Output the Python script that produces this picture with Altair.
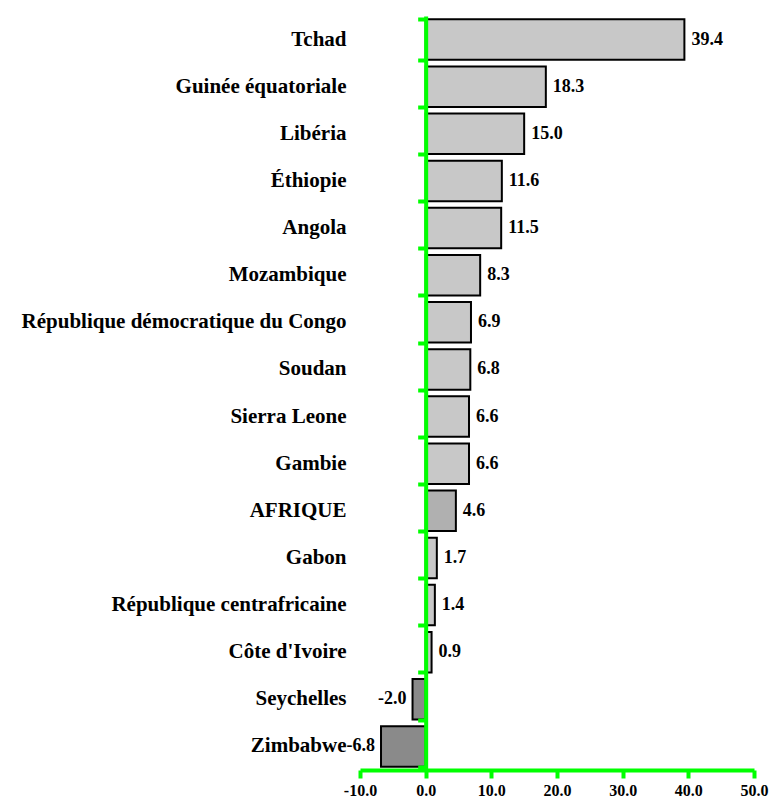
import altair as alt
import pandas as pd

countries = ["Tchad", "Guinée équatoriale", "Libéria", "Éthiopie", "Angola", "Mozambique",
             "République démocratique du Congo ", "Soudan", "Sierra Leone", "Gambie", "AFRIQUE",
             "Gabon", "République centrafricaine", "Côte d'Ivoire", "Seychelles", "Zimbabwe"]
values = [39.4, 18.3, 15.0, 11.6, 11.5, 8.3, 6.9, 6.8, 6.6, 6.6, 4.6, 1.7, 1.4, 0.9, -2.0, -6.8]
kinds = ["pos"] * 10 + ["afr"] + ["pos"] * 3 + ["neg"] * 2
x_ticks = [-10, 0, 10, 20, 30, 40, 50]

df = pd.DataFrame({"pays": countries, "val": values, "kind": kinds})

GREEN = "#00ff00"
FONT = "Liberation Serif"
W = 394

yscale = alt.Scale(domain=countries, paddingInner=0.14, paddingOuter=0.07)
xscale = alt.Scale(domain=[-10, 50], nice=False, zero=False)
xaxis = alt.Axis(title=None, values=x_ticks, format=".1f",
                 labelExpr="replace(datum.label, '\u2212', '-')",
                 grid=False, domainColor=GREEN, domainWidth=4, tickColor=GREEN,
                 tickWidth=4, tickSize=8, labelFont=FONT, labelFontWeight="bold",
                 labelFontSize=16, labelColor="black", labelPadding=4, labelFlush=False,
                 zindex=1)

base = alt.Chart(df).transform_calculate(
    lab="replace(format(datum.val, '.1f'), '\u2212', '-')"
)

bars = base.mark_bar(stroke="black", strokeWidth=2).encode(
    y=alt.Y("pays:N", sort=countries, scale=yscale,
            axis=alt.Axis(title=None, domain=False, ticks=False, grid=False, labelFont=FONT,
                          labelFontWeight="bold", labelFontSize=21, labelColor="black",
                          labelPadding=14, labelLimit=400)),
    x=alt.X("val:Q", scale=xscale, axis=xaxis),
    color=alt.Color("kind:N", scale=alt.Scale(domain=["pos", "neg", "afr"],
                                              range=["#c8c8c8", "#8a8a8a", "#b0b0b0"]),
                    legend=None),
)

pos_text = base.transform_filter("datum.val >= 0").mark_text(
    align="left", baseline="middle", dx=7, font=FONT, fontWeight="bold", fontSize=18, color="black"
).encode(
    y=alt.Y("pays:N", sort=countries, scale=yscale,
            axis=alt.Axis(title=None, labels=False, orient="left", offset=-W / 6, domain=True,
                          grid=False, domainColor=GREEN, domainWidth=4, tickColor=GREEN,
                          tickWidth=4, tickSize=8, tickBand="extent", zindex=1)),
    x=alt.X("val:Q", scale=xscale, axis=xaxis),
    text=alt.Text("lab:N"),
)

neg_text = base.transform_filter("datum.val < 0").mark_text(
    align="right", baseline="middle", dx=-6, font=FONT, fontWeight="bold", fontSize=18, color="black"
).encode(
    y=alt.Y("pays:N", sort=countries, scale=yscale, axis=None),
    x=alt.X("val:Q", scale=xscale, axis=xaxis),
    text=alt.Text("lab:N"),
)

chart = alt.layer(bars, pos_text, neg_text).resolve_axis(y="independent").properties(
    width=W, height=754,
    autosize=alt.AutoSizeParams(type="none"),
    padding={"left": 352, "top": 8, "right": 15, "bottom": 32},
    background="white",
).configure_view(strokeWidth=0, stroke="transparent").configure_axis(grid=False)

chart.save("out.html", embed_options={"renderer": "svg", "actions": False})
